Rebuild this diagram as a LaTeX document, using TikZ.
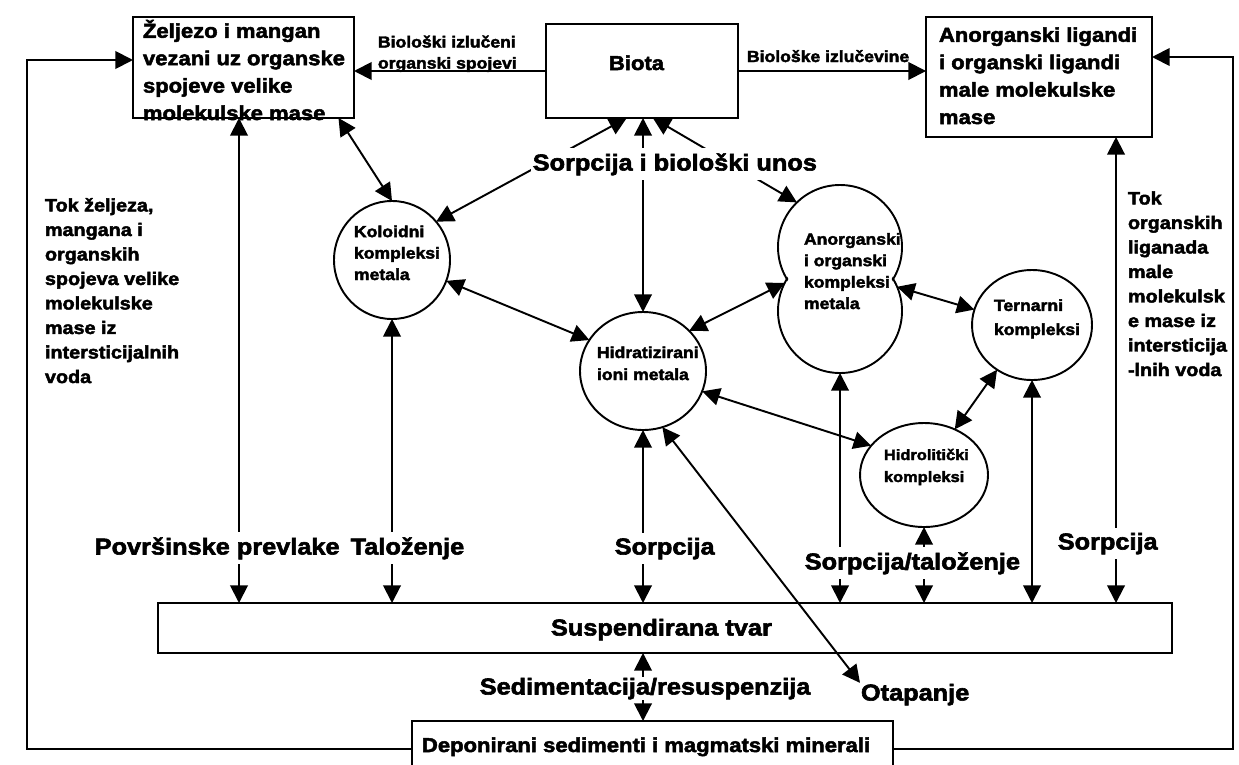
\documentclass[tikz,border=0pt]{standalone}
\usepackage{fontspec}
\setmainfont{Liberation Sans}[FakeStretch=1.1, BoldFeatures={FakeBold=2.5}]
\usetikzlibrary{arrows.meta,shapes.geometric}

% one unit of the drawing grid
\newcommand\PX{0.02cm}
% type sizes
\newcommand\fsBig{\fontsize{13.1}{15}\selectfont\bfseries}
\newcommand\fsBox{\fontsize{11.4}{15.6}\selectfont\bfseries}
\newcommand\fsCol{\fontsize{10.24}{13.95}\selectfont\bfseries}
\newcommand\fsSmall{\fontsize{9.1}{12}\selectfont\bfseries}
\newcommand\fsCirc{\fontsize{9.1}{12.2}\selectfont\bfseries}

\begin{document}
\begin{tikzpicture}[
  x=0.02cm, y=-0.02cm,
  line width=1.1pt,
  >={Triangle[length=10pt,width=10pt]},
  box/.style={draw, rectangle, inner sep=0pt, outer sep=0pt, line width=1.3pt},
  blob/.style={draw, ellipse, inner sep=0pt, outer sep=0pt},
  lbl/.style={inner sep=0pt, anchor=base west, align=left},
  gap/.style={lbl, fill=white, inner xsep=1pt, inner ysep=2.8pt},
]
\fill[white] (0,0) rectangle (1239,764);
\useasboundingbox (0,0) rectangle (1239,764);

% ---- boxes
\node[box, minimum width=221*\PX, minimum height=101*\PX] (fem) at (243.5,67.5) {};
\node[box, minimum width=192*\PX, minimum height=94*\PX] (biota) at (642,71) {};
\node[box, minimum width=226*\PX, minimum height=120*\PX] (lig) at (1039,77) {};
\node[box, minimum width=1014*\PX, minimum height=50*\PX] (susp) at (665,628) {};
\node[box, minimum width=481*\PX, minimum height=56*\PX] (dep) at (652.5,749) {};

% ---- complexes
\node[blob, minimum width=116*\PX, minimum height=118*\PX] (kol) at (392,260) {};
\node[blob, minimum width=126*\PX, minimum height=118*\PX] (hid) at (643,371) {};
\node[blob, shape=circle, minimum size=124*\PX] (anA) at (840,247) {};
\node[blob, shape=circle, minimum size=124*\PX] (anB) at (840,311) {};
\node[blob, minimum width=120*\PX, minimum height=110*\PX] (ter) at (1032,325) {};
\node[blob, minimum width=128*\PX, minimum height=104*\PX] (hyd) at (924,475) {};
% merge the two overlapping circles into one outline
\fill[white] (anA.center) circle[radius=60.5*\PX];
\fill[white] (anB.center) circle[radius=60.5*\PX];

% ---- texts inside shapes (anchor = baseline of the last line)
\node[lbl, font=\fsBox] (femT) at (142,120) {Željezo i mangan\\vezani uz organske\\spojeve velike\\molekulske mase};
\node[lbl, font=\fsBox] (biotaT) at (608,70) {Biota};
\node[lbl, font=\fsBox] (ligT) at (938,124) {Anorganski ligandi\\i organski ligandi\\male molekulske\\mase};
\node[lbl, font=\fsBig] (suspT) at (550,635.5) {Suspendirana tvar};
\node[lbl, font=\fsBox] (depT) at (421,752) {Deponirani sedimenti i magmatski minerali};
\node[lbl, font=\fsCirc] (kolT) at (353,280) {Koloidni\\kompleksi\\metala};
\node[lbl, font=\fsCirc] (anT) at (803,309) {Anorganski\\i organski\\kompleksi\\metala};
\node[lbl, font=\fontsize{9.1}{13.7}\selectfont\bfseries] (terT) at (993,335) {Ternarni\\kompleksi};
\node[lbl, font=\fontsize{9.1}{12.5}\selectfont\bfseries] (hidT) at (596,380) {Hidratizirani\\ioni metala};
\node[lbl, font=\fontsize{8.5}{12.5}\selectfont\bfseries] (hydT) at (883,482) {Hidrolitički\\kompleksi};

% ---- side columns
\node[lbl, font=\fsCol] (tokL) at (44,383) {Tok željeza,\\mangana i\\organskih\\spojeva velike\\molekulske\\mase iz\\intersticijalnih\\voda};
\node[lbl, font=\fsCol] (tokR) at (1127,376) {Tok\\organskih\\liganada\\male\\molekulsk\\e mase iz\\intersticija\\-lnih voda};

\node[lbl, font=\fsBig] (otT) at (860,700.5) {Otapanje};

% ---- connectors
\draw[->] (biota.west) -- (biota.west -| fem.east);
\draw[->] (biota.east) -- (biota.east -| lig.west);

\coordinate (lc1) at (27,749);
\coordinate (lc2) at (27,60);
\draw[->] (dep.west) -- (dep.west -| lc1) -- (lc2) -- (lc2 -| fem.west);
\coordinate (rc1) at (1233,749);
\coordinate (rc2) at (1233,57);
\draw[->] (dep.east) -- (dep.east -| rc1) -- (rc2) -- (rc2 -| lig.east);

\coordinate (cA) at (239,0);
\coordinate (cS) at (1116,0);
\draw[<->] (fem.south -| cA) -- (susp.north -| cA);
\draw[<->] (kol.south) -- (kol.south |- susp.north);
\draw[<->] (hid.south) -- (hid.south |- susp.north);
\draw[<->] (anB.south) -- (anB.south |- susp.north);
\draw[<->] (hyd.south) -- (hyd.south |- susp.north);
\draw[<->] (ter.south) -- (ter.south |- susp.north);
\draw[<->] (lig.south -| cS) -- (susp.north -| cS);
\draw[<->] (susp.south -| hid.south) -- (dep.north -| hid.south);

\draw[<->] (fem.-28) -- (kol.north);
\draw[<->] (kol.41) -- (biota.-108);
\draw[<->] (hid.north) -- (hid.north |- biota.south);
\draw[<->] (anA.134) -- (biota.-77);
\draw[<->] (kol.-21) -- (hid.150);
\draw[<->] (hid.41) -- (anB.153);
\draw[<->] (anB.23) -- (ter.165);
\draw[<->] (hid.-19) -- (hyd.151);
\draw[<->] (hyd.56) -- (ter.-128);
\draw[<->] (hid.-71) -- (otT.north west);

% ---- labels on connectors
\node[lbl, font=\fsSmall] (izlT) at (377,68.6) {Biološki izlučeni\\organski spojevi};
\node[lbl, font=\fsSmall] (izlvT) at (746,62) {Biološke izlučevine};
\node[gap, font=\fsBig] (sorpT) at (530,170.5) {Sorpcija i biološki unos};
\node[gap, font=\fsBig] (povT) at (92,554.5) {Površinske prevlake};
\node[gap, font=\fsBig] (talT) at (348,554.5) {Taloženje};
\node[gap, font=\fsBig] (sorp1T) at (612,554.5) {Sorpcija};
\node[gap, font=\fsBig] (sorp2T) at (802,569.5) {Sorpcija/taloženje};
\node[gap, font=\fsBig] (sorp3T) at (1055,549.5) {Sorpcija};
\node[gap, font=\fsBig, inner ysep=0.5pt] (sedT) at (477,694.5) {Sedimentacija/resuspenzija};
\end{tikzpicture}
\end{document}
